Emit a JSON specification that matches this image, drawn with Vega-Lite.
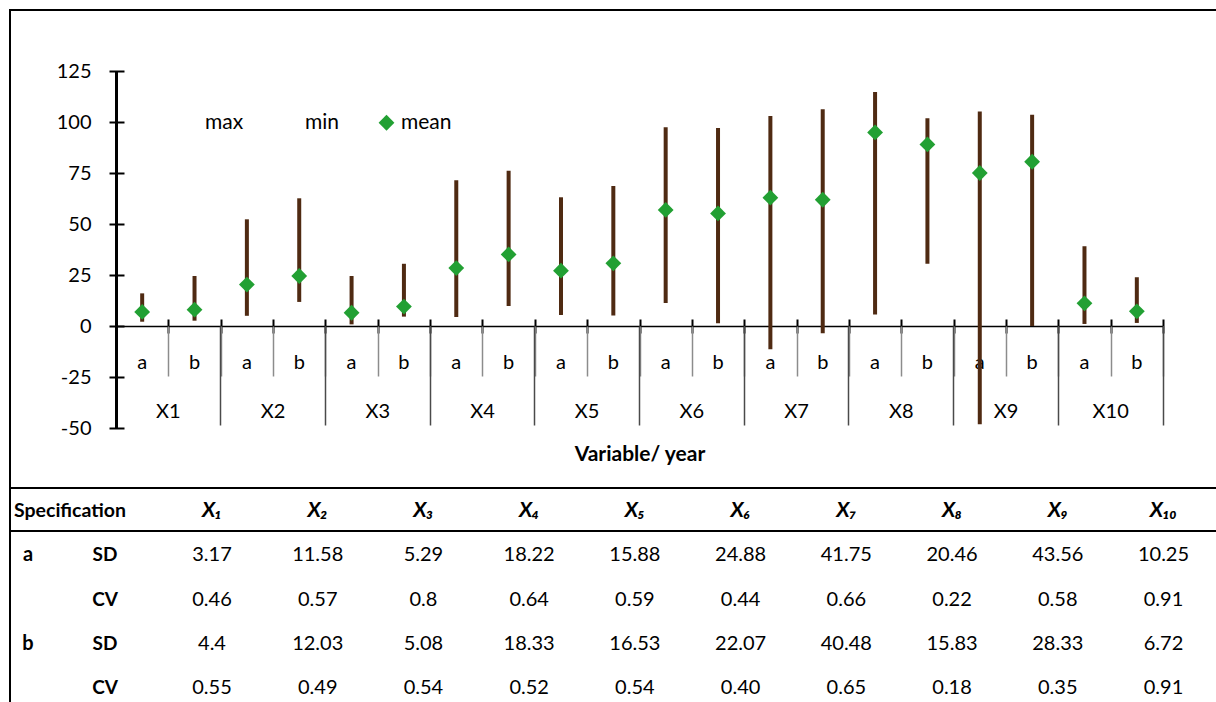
{
  "$schema": "https://vega.github.io/schema/vega-lite/v6.json",
  "width": 1209,
  "height": 695,
  "autosize": {"type": "none"},
  "padding": {"left": 10, "top": 10, "right": -3, "bottom": -3},
  "background": "white",
  "config": {
    "view": {"stroke": "#000000", "strokeWidth": 2},
    "font": "Lato",
    "axis": {"grid": false}
  },
  "datasets": {
    "stats": [
      {"cat": "X1a", "min": 2.1, "max": 16.0, "mean": 6.9},
      {"cat": "X1b", "min": 2.6, "max": 24.5, "mean": 8.0},
      {"cat": "X2a", "min": 5.0, "max": 52.3, "mean": 20.3},
      {"cat": "X2b", "min": 11.8, "max": 62.6, "mean": 24.5},
      {"cat": "X3a", "min": 0.8, "max": 24.5, "mean": 6.5},
      {"cat": "X3b", "min": 4.6, "max": 30.5, "mean": 9.5},
      {"cat": "X4a", "min": 4.4, "max": 71.4, "mean": 28.4},
      {"cat": "X4b", "min": 9.8, "max": 76.1, "mean": 35.1},
      {"cat": "X5a", "min": 5.4, "max": 63.1, "mean": 27.1},
      {"cat": "X5b", "min": 5.2, "max": 68.6, "mean": 30.7},
      {"cat": "X6a", "min": 11.3, "max": 97.4, "mean": 56.9},
      {"cat": "X6b", "min": 1.3, "max": 97.1, "mean": 55.2},
      {"cat": "X7a", "min": -11.4, "max": 102.9, "mean": 62.9},
      {"cat": "X7b", "min": -3.6, "max": 106.2, "mean": 61.9},
      {"cat": "X8a", "min": 5.6, "max": 114.7, "mean": 94.9},
      {"cat": "X8b", "min": 30.5, "max": 101.8, "mean": 89.0},
      {"cat": "X9a", "min": -48.2, "max": 105.2, "mean": 75.0},
      {"cat": "X9b", "min": 0.0, "max": 103.6, "mean": 80.5},
      {"cat": "X10a", "min": 1.0, "max": 39.1, "mean": 11.1},
      {"cat": "X10b", "min": 1.5, "max": 23.9, "mean": 7.2}
    ],
    "table": [
      {"row": "a SD", "col": "X1", "val": "3.17"}, {"row": "a SD", "col": "X2", "val": "11.58"}, {"row": "a SD", "col": "X3", "val": "5.29"}, {"row": "a SD", "col": "X4", "val": "18.22"}, {"row": "a SD", "col": "X5", "val": "15.88"}, {"row": "a SD", "col": "X6", "val": "24.88"}, {"row": "a SD", "col": "X7", "val": "41.75"}, {"row": "a SD", "col": "X8", "val": "20.46"}, {"row": "a SD", "col": "X9", "val": "43.56"}, {"row": "a SD", "col": "X10", "val": "10.25"},
      {"row": "a CV", "col": "X1", "val": "0.46"}, {"row": "a CV", "col": "X2", "val": "0.57"}, {"row": "a CV", "col": "X3", "val": "0.8"}, {"row": "a CV", "col": "X4", "val": "0.64"}, {"row": "a CV", "col": "X5", "val": "0.59"}, {"row": "a CV", "col": "X6", "val": "0.44"}, {"row": "a CV", "col": "X7", "val": "0.66"}, {"row": "a CV", "col": "X8", "val": "0.22"}, {"row": "a CV", "col": "X9", "val": "0.58"}, {"row": "a CV", "col": "X10", "val": "0.91"},
      {"row": "b SD", "col": "X1", "val": "4.4"}, {"row": "b SD", "col": "X2", "val": "12.03"}, {"row": "b SD", "col": "X3", "val": "5.08"}, {"row": "b SD", "col": "X4", "val": "18.33"}, {"row": "b SD", "col": "X5", "val": "16.53"}, {"row": "b SD", "col": "X6", "val": "22.07"}, {"row": "b SD", "col": "X7", "val": "40.48"}, {"row": "b SD", "col": "X8", "val": "15.83"}, {"row": "b SD", "col": "X9", "val": "28.33"}, {"row": "b SD", "col": "X10", "val": "6.72"},
      {"row": "b CV", "col": "X1", "val": "0.55"}, {"row": "b CV", "col": "X2", "val": "0.49"}, {"row": "b CV", "col": "X3", "val": "0.54"}, {"row": "b CV", "col": "X4", "val": "0.52"}, {"row": "b CV", "col": "X5", "val": "0.54"}, {"row": "b CV", "col": "X6", "val": "0.40"}, {"row": "b CV", "col": "X7", "val": "0.65"}, {"row": "b CV", "col": "X8", "val": "0.18"}, {"row": "b CV", "col": "X9", "val": "0.35"}, {"row": "b CV", "col": "X10", "val": "0.91"}
    ],
    "cols": [
      {"col": "X1", "lab": "X₁"}, {"col": "X2", "lab": "X₂"}, {"col": "X3", "lab": "X₃"}, {"col": "X4", "lab": "X₄"}, {"col": "X5", "lab": "X₅"},
      {"col": "X6", "lab": "X₆"}, {"col": "X7", "lab": "X₇"}, {"col": "X8", "lab": "X₈"}, {"col": "X9", "lab": "X₉"}, {"col": "X10", "lab": "X₁₀"}
    ],
    "grps": [{"row": "a SD", "t": "a"}, {"row": "b SD", "t": "b"}],
    "statlabs": [{"row": "a SD", "t": "SD"}, {"row": "a CV", "t": "CV"}, {"row": "b SD", "t": "SD"}, {"row": "b CV", "t": "CV"}]
  },
  "layer": [
    {
      "data": {"name": "stats"},
      "layer": [
        {
          "mark": {"type": "rule", "strokeWidth": 4, "color": "#4f2a12"},
          "encoding": {
            "x": {
              "field": "cat", "type": "nominal", "sort": null,
              "scale": {"type": "band", "paddingInner": 0, "paddingOuter": 0, "range": [106, 1153]},
              "axis": {"orient": "bottom", "offset": -379, "domain": true, "domainColor": "#000000", "domainWidth": 1.5, "ticks": false, "tickSize": 0, "labels": true, "labelExpr": "slice(datum.label, -1)", "labelAngle": 0, "labelBaseline": "middle", "labelPadding": 36, "labelFontSize": 20, "labelColor": "#000000", "title": null}
            },
            "y": {
              "field": "min", "type": "quantitative",
              "scale": {"domain": [-50, 125], "range": [418, 61], "nice": false, "zero": false},
              "axis": {"orient": "left", "offset": -106, "values": [-50, -25, 0, 25, 50, 75, 100, 125], "labelExpr": "'' + datum.value", "domain": true, "domainColor": "#000000", "domainWidth": 3, "ticks": false, "tickSize": 0, "labelPadding": 25, "labelFontSize": 20, "labelColor": "#000000", "title": null}
            },
            "y2": {"field": "max"}
          }
        },
        {
          "mark": {"type": "point", "shape": "diamond", "filled": true, "size": 250, "opacity": 1},
          "encoding": {
            "x": {
              "field": "cat", "type": "nominal", "sort": null,
              "axis": {"orient": "bottom", "offset": -386, "domain": false, "ticks": true, "tickBand": "extent", "tickSize": 14, "tickWidth": 2, "tickColor": "#000000", "labels": false, "title": null}
            },
            "y": {
              "field": "mean", "type": "quantitative",
              "axis": {"orient": "left", "offset": -114, "values": [-50, -25, 0, 25, 50, 75, 100, 125], "domain": false, "ticks": true, "tickSize": 15, "tickWidth": 2, "tickColor": "#000000", "labels": false, "title": null}
            },
            "color": {
              "datum": "mean", "type": "nominal",
              "scale": {"domain": ["max", "min", "mean"], "range": ["rgba(0,0,0,0)", "rgba(0,0,0,0)", "#22a033"]},
              "legend": {"title": null, "orient": "none", "legendX": 170, "legendY": 102, "direction": "horizontal", "symbolType": "diamond", "symbolSize": 250, "symbolStrokeWidth": 0, "labelFontSize": 21, "labelColor": "#000000", "labelOffset": 4, "columnPadding": 36, "padding": 0}
            }
          }
        },
        {
          "mark": {"type": "point", "shape": "diamond", "filled": true, "size": 250},
          "encoding": {
            "x": {
              "field": "cat", "type": "nominal", "sort": null,
              "axis": {"orient": "bottom", "offset": -379, "domain": false, "ticks": true, "tickBand": "extent", "tickSize": 50, "tickWidth": 1.5, "tickColor": "#8c8c8c", "labels": false, "title": null}
            },
            "y": {"field": "max", "type": "quantitative", "axis": null},
            "color": {"datum": "max", "type": "nominal"}
          }
        },
        {
          "mark": {"type": "point", "shape": "diamond", "filled": true, "size": 250},
          "encoding": {
            "x": {
              "field": "cat", "type": "nominal", "sort": null,
              "axis": {"orient": "bottom", "offset": -379, "values": ["X1b", "X2b", "X3b", "X4b", "X5b", "X6b", "X7b", "X8b", "X9b", "X10b"], "bandPosition": 1, "tickExtra": false, "domain": false, "ticks": true, "tickSize": 99, "tickWidth": 1.5, "tickColor": "#4a4a4a", "labels": true, "labelExpr": "replace(datum.label, 'b', '')", "labelOffset": -26.175, "labelAngle": 0, "labelBaseline": "middle", "labelPadding": -14, "labelFontSize": 20, "labelColor": "#000000", "title": "Variable/ year", "titleFontSize": 21, "titleFontWeight": "bold", "titleColor": "#000000", "titleY": 128, "titleBaseline": "middle"}
            },
            "y": {"field": "min", "type": "quantitative", "axis": null},
            "color": {"datum": "min", "type": "nominal"}
          }
        }
      ],
      "resolve": {"axis": {"x": "independent", "y": "independent"}}
    },
    {
      "layer": [
        {
          "data": {"name": "table"},
          "mark": {"type": "text", "fontSize": 20, "color": "#000000", "baseline": "middle", "align": "center"},
          "encoding": {
            "x": {"field": "col", "type": "nominal", "sort": null, "scale": {"type": "point", "padding": 0, "range": [202, 1153.5], "domain": ["X1", "X2", "X3", "X4", "X5", "X6", "X7", "X8", "X9", "X10"]}, "axis": null},
            "y": {"field": "row", "type": "nominal", "sort": null, "scale": {"type": "point", "padding": 0, "range": [501, 678], "domain": ["header", "a SD", "a CV", "b SD", "b CV"]}, "axis": null},
            "text": {"field": "val"}
          }
        },
        {
          "data": {"name": "cols"},
          "mark": {"type": "text", "fontSize": 21, "fontWeight": "bold", "fontStyle": "italic", "color": "#000000", "baseline": "middle", "align": "center"},
          "encoding": {
            "x": {"field": "col", "type": "nominal", "sort": null},
            "y": {"datum": "header", "type": "nominal"},
            "text": {"field": "lab"}
          }
        },
        {
          "data": {"values": [{"t": "Specification"}]},
          "mark": {"type": "text", "fontSize": 19.5, "fontWeight": "bold", "color": "#000000", "baseline": "middle", "align": "left", "dx": -198},
          "encoding": {
            "x": {"datum": "X1", "type": "nominal"},
            "y": {"datum": "header", "type": "nominal"},
            "text": {"field": "t"}
          }
        },
        {
          "data": {"name": "grps"},
          "mark": {"type": "text", "fontSize": 20, "fontWeight": "bold", "color": "#000000", "baseline": "middle", "align": "center", "dx": -184},
          "encoding": {
            "x": {"datum": "X1", "type": "nominal"},
            "y": {"field": "row", "type": "nominal"},
            "text": {"field": "t"}
          }
        },
        {
          "data": {"name": "statlabs"},
          "mark": {"type": "text", "fontSize": 19, "fontWeight": "bold", "color": "#000000", "baseline": "middle", "align": "center", "dx": -107},
          "encoding": {
            "x": {"datum": "X1", "type": "nominal"},
            "y": {"field": "row", "type": "nominal"},
            "text": {"field": "t"}
          }
        },
        {
          "data": {"values": [{"edge": "top"}]},
          "mark": {"type": "rule", "strokeWidth": 2, "color": "#000000", "yOffset": -23},
          "encoding": {"y": {"datum": "header", "type": "nominal"}}
        },
        {
          "data": {"values": [{"edge": "bottom"}]},
          "mark": {"type": "rule", "strokeWidth": 2, "color": "#000000", "yOffset": 20},
          "encoding": {"y": {"datum": "header", "type": "nominal"}}
        }
      ]
    }
  ],
  "resolve": {"scale": {"x": "independent", "y": "independent"}}
}
